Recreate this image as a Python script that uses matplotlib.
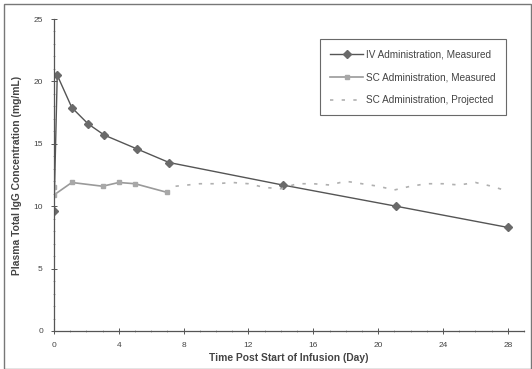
import numpy as np
import matplotlib
matplotlib.use("Agg")
import matplotlib.pyplot as plt
from matplotlib.ticker import MultipleLocator

# IV administration, measured
iv_day = [0.0, 0.2, 1.1, 2.1, 3.1, 5.1, 7.1, 14.1, 21.1, 28.0]
iv_conc = [9.6, 20.5, 17.9, 16.6, 15.7, 14.6, 13.5, 11.7, 10.0, 8.3]

# SC administration, measured
sc_day = [0.0, 0.0, 1.1, 3.0, 4.0, 5.0, 7.0]
sc_conc = [11.5, 10.9, 11.9, 11.6, 11.9, 11.8, 11.1]

# SC administration, projected
proj_day = [7.5, 9, 10, 11, 12, 13, 14, 15, 16, 17, 18, 19, 20, 21, 22, 23, 24, 25, 26, 27, 28]
proj_conc = [11.6, 11.8, 11.8, 11.9, 11.8, 11.5, 11.4, 11.8, 11.8, 11.7, 12.0,
             11.8, 11.6, 11.3, 11.6, 11.8, 11.8, 11.7, 11.9, 11.6, 11.2]

labels = ["IV Administration, Measured", "SC Administration, Measured",
          "SC Administration, Projected"]

plt.rcParams['font.family'] = ['Liberation Sans', 'DejaVu Sans']

fig = plt.figure(figsize=(5.32, 3.69), dpi=100)
ax = fig.add_axes([0.1015, 0.103, 0.8835, 0.8455])

ax.plot(iv_day, iv_conc, color='#555555', lw=1.0, marker='D', ms=4.5,
        mfc='#6a6a6a', mec='#6a6a6a', label=labels[0])
ax.plot(sc_day, sc_conc, color='#9a9a9a', lw=1.2, marker='s', ms=3.5,
        mfc='#a8a8a8', mec='#a8a8a8', label=labels[1])
ax.plot(proj_day, proj_conc, color='#b0b0b0', lw=1.2, ls=(0, (2, 5)),
        label=labels[2])

ax.set_xlim(0, 29)
ax.set_ylim(0, 25)
ax.xaxis.set_major_locator(MultipleLocator(4))
ax.xaxis.set_minor_locator(MultipleLocator(1))
ax.yaxis.set_major_locator(MultipleLocator(5))
ax.yaxis.set_minor_locator(MultipleLocator(1))
ax.tick_params(which='major', direction='inout', length=4, width=0.7,
               labelsize=6, labelcolor='#444444', color='#555555', pad=6)
ax.tick_params(which='minor', direction='inout', length=2, width=0.5,
               color='#888888')
for s in ['top', 'right']:
    ax.spines[s].set_visible(False)
for s in ['left', 'bottom']:
    ax.spines[s].set_color('#555555')
    ax.spines[s].set_linewidth(0.9)

ax.set_xlabel("Time Post Start of Infusion (Day)", fontsize=7.4,
              fontweight='bold', color='#444444', labelpad=3)
ax.set_ylabel("Plasma Total IgG Concentration (mg/mL)", fontsize=7.4,
              fontweight='bold', color='#444444', labelpad=8)

leg = ax.legend(loc='upper left', bbox_to_anchor=(0.566, 0.935), fontsize=7.2,
                frameon=True, fancybox=False, borderpad=1.0, labelspacing=1.3,
                handlelength=3.3, handletextpad=0.3, borderaxespad=0)
leg.get_frame().set_edgecolor('#444444')
leg.get_frame().set_linewidth(0.8)
for t in leg.get_texts():
    t.set_color('#444444')

# scanned page border
fig.add_artist(plt.Rectangle((0.008, 0.0), 0.99, 0.99, transform=fig.transFigure,
                             fill=False, ec='#777777', lw=1.0))

fig.savefig("out.png", dpi=100)
